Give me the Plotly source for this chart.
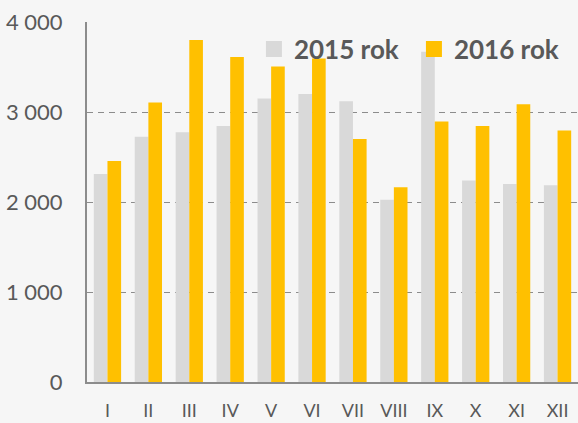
import plotly.graph_objects as go

months = ["I", "II", "III", "IV", "V", "VI", "VII", "VIII", "IX", "X", "XI", "XII"]
y2015 = [2310, 2725, 2775, 2845, 3150, 3200, 3120, 2025, 3670, 2240, 2200, 2185]
y2016 = [2455, 3105, 3800, 3610, 3505, 3595, 2700, 2165, 2895, 2845, 3085, 2795]
names = ["2015 rok", "2016 rok"]
colors = ["#D9D9D9", "#FFC000"]
yticks = [0, 1000, 2000, 3000, 4000]
ytext = ["0", "1 000", "2 000", "3 000", "4 000"]

fig = go.Figure()
for name, vals, col in zip(names, [y2015, y2016], colors):
    fig.add_trace(go.Bar(x=months, y=vals, name=name, marker=dict(color=col, line=dict(width=0)),
                         showlegend=False, hoverinfo="skip"))
for name, col in zip(names, colors):
    fig.add_trace(go.Scatter(x=[None], y=[None], mode="markers", name=name,
                             marker=dict(symbol="square", size=16, color=col)))

fig.update_layout(
    width=578, height=423,
    margin=dict(l=87, r=0, t=22, b=41, autoexpand=False),
    paper_bgcolor="#F6F6F6", plot_bgcolor="rgba(0,0,0,0)",
    barmode="group", bargap=1/3, bargroupgap=0,
    font=dict(family="Lato", color="#595959"),
    legend=dict(orientation="h", x=0.34, y=0.99, xanchor="left", yanchor="top",
                font=dict(size=26, color="#595959", family="Lato", weight="bold"),
                bgcolor="rgba(0,0,0,0)", itemsizing="trace",
                entrywidth=115, entrywidthmode="pixels"),
    xaxis=dict(range=[-0.5, 11.5], showgrid=False, showline=True, linecolor="#8C8C8C", linewidth=2,
               ticks="", tickfont=dict(size=18, color="#595959"), ticklabelstandoff=11,
               automargin=False),
    yaxis=dict(range=[0, 4000], tickvals=yticks, ticktext=ytext, showgrid=True,
               gridcolor="#8C8C8C", griddash="6px,5px", gridwidth=1.3,
               showline=True, linecolor="#8C8C8C", linewidth=2, zeroline=False,
               ticks="", tickfont=dict(size=22, color="#595959"), ticklabelstandoff=18,
               automargin=False),
)

fig.write_html("out.html", config={"displayModeBar": False},
               post_script="document.body.style.margin='0';document.body.style.overflow='hidden';")
